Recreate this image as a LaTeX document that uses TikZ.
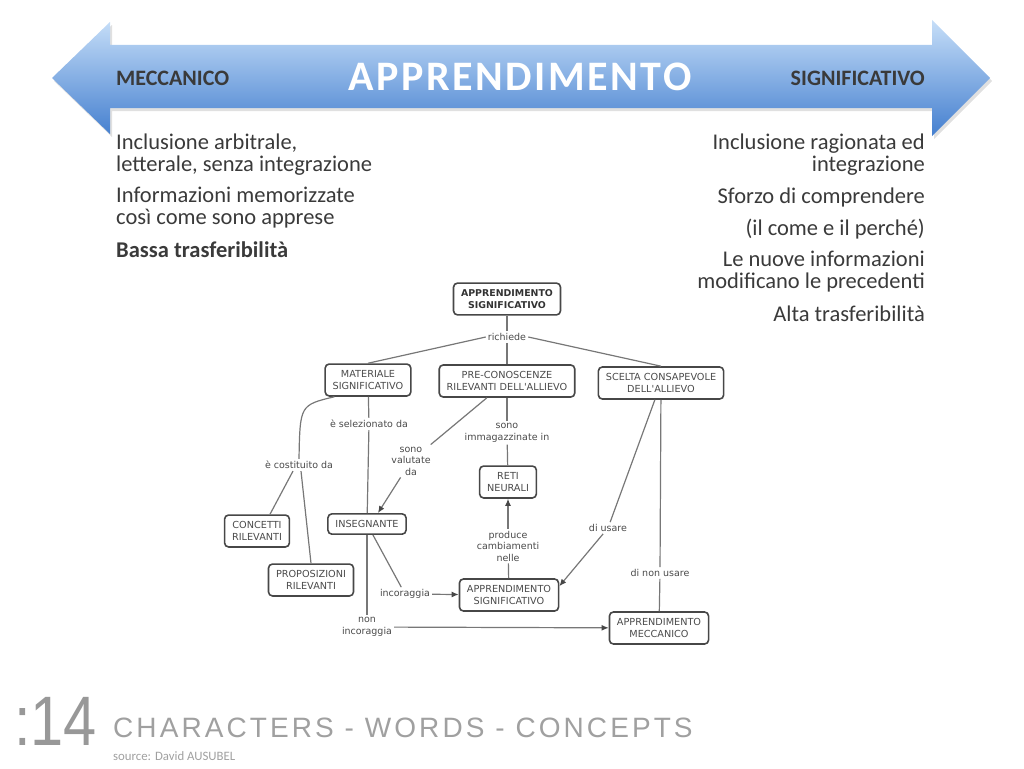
\documentclass[tikz,border=0pt]{standalone}
\usepackage{fontspec}
\usepackage{tikz}
\usepackage{xcolor}
\usetikzlibrary{arrows.meta}

\setmainfont{Carlito}
\newfontfamily\cmapfont{DejaVu Sans}
\newfontfamily\bannerfont[LetterSpace=6]{Carlito}
\newfontfamily\footfont[LetterSpace=11]{Liberation Sans}
\newfontfamily\numfont[FakeStretch=0.85]{Liberation Sans}

\definecolor{bannertop}{HTML}{C6DEF8}
\definecolor{bannerbot}{HTML}{447FCF}
\definecolor{slidetext}{HTML}{3A3A3A}
\definecolor{boxline}{HTML}{474747}
\definecolor{boxtext}{HTML}{4A4A4A}
\definecolor{linkline}{HTML}{777777}
\definecolor{footgrey}{HTML}{A0A0A0}

\begin{document}
\begin{tikzpicture}[x=1pt,y=-1pt,
            concept/.style={draw=boxline, line width=1.6pt, rounded corners=4pt, text=boxtext,
                font=\cmapfont\fontsize{9.7}{11.7}\selectfont, align=center, inner xsep=7.5pt, inner ysep=6.5pt},
            linkword/.style={text=boxtext, font=\cmapfont\fontsize{9.5}{11.5}\selectfont, align=center, inner sep=2pt},
            link/.style={draw=linkline, line width=1.2pt},
            linkarrow/.style={link, -{Latex[length=7pt,width=6pt,color=boxline]}},
            slide/.style={inner sep=0pt, text=slidetext, font=\fontsize{22.5}{22}\selectfont}]
            \useasboundingbox (0,0) rectangle (1024,768);

            % draw banner arrow
            \fill[black, opacity=0.12] (54,81) -- (112,25) -- (112,48) -- (934,48) -- (934,23) -- (992,81)
                -- (934,139) -- (934,111) -- (112,111) -- (112,137) -- cycle;
            \shade[top color=bannertop, bottom color=bannerbot] (52,78) -- (110,22) -- (110,45) -- (932,45)
                -- (932,20) -- (990,78) -- (932,136) -- (932,108) -- (110,108) -- (110,134) -- cycle;
            \node[anchor=base west, inner sep=0pt, text=slidetext, font=\bfseries\fontsize{22}{25}\selectfont] (mecc) at (116,85) {MECCANICO};
            \node[anchor=base east, inner sep=0pt, text=slidetext, font=\bfseries\fontsize{22}{25}\selectfont] (signif) at (925,85) {SIGNIFICATIVO};
            \node[anchor=base, inner sep=0pt, text=white, font=\bannerfont\bfseries\fontsize{42}{48}\selectfont] (appr) at (520,90) {APPRENDIMENTO};

            % draw the two lists (base is the last line)
            \node[slide, anchor=base west, align=left] (lefta) at (116,171) {Inclusione arbitrale,\\letterale, senza integrazione};
            \node[slide, anchor=base west, align=left] (leftb) at (116,224) {Informazioni memorizzate\\così come sono apprese};
            \node[slide, anchor=base west, font=\bfseries\fontsize{22.5}{22}\selectfont] (leftc) at (116,257) {Bassa trasferibilità};

            \node[slide, anchor=base east, align=right] (righta) at (925,171) {Inclusione ragionata ed\\integrazione};
            \node[slide, anchor=base east] (rightb) at (925,203) {Sforzo di comprendere};
            \node[slide, anchor=base east] (rightc) at (925,235) {(il come e il perché)};
            \node[slide, anchor=base east, align=right] (rightd) at (925,288) {Le nuove informazioni\\modificano le precedenti};
            \node[slide, anchor=base east] (righte) at (925,321) {Alta trasferibilità};

            % draw concept map
            \node[concept, text=black!80, font=\cmapfont\bfseries\fontsize{9.4}{11.7}\selectfont] (topappr) at (507,299) {APPRENDIMENTO\\SIGNIFICATIVO};
            \node[concept] (materiale) at (368,380) {MATERIALE\\SIGNIFICATIVO};
            \node[concept] (preconosc) at (507,381) {PRE-CONOSCENZE\\RILEVANTI DELL'ALLIEVO};
            \node[concept] (scelta) at (661,383) {SCELTA CONSAPEVOLE\\DELL'ALLIEVO};
            \node[concept] (reti) at (508,482) {RETI\\NEURALI};
            \node[concept] (concetti) at (257,531) {CONCETTI\\RILEVANTI};
            \node[concept] (insegnante) at (367,524) {INSEGNANTE};
            \node[concept] (proposiz) at (311,580) {PROPOSIZIONI\\RILEVANTI};
            \node[concept] (apprsig) at (509,595) {APPRENDIMENTO\\SIGNIFICATIVO};
            \node[concept] (apprmec) at (659,628) {APPRENDIMENTO\\MECCANICO};

            \node[linkword] (richiede) at (507,337) {richiede};
            \node[linkword] (selezionato) at (369,424) {è selezionato da};
            \node[linkword] (costituito) at (299,465) {è costituito da};
            \node[linkword] (valutate) at (411,461) {sono\\valutate\\da};
            \node[linkword] (immag) at (507,433) {sono\\immagazzinate in};
            \node[linkword] (produce) at (508,546) {produce\\cambiamenti\\nelle};
            \node[linkword] (incoraggia) at (405,594) {incoraggia};
            \node[linkword] (nonincor) at (367,627) {non\\incoraggia};
            \node[linkword] (diusare) at (608,528) {di usare};
            \node[linkword] (dinonusare) at (660,573) {di non usare};

            % draw links
            \draw[link] (topappr) -- (richiede);
            \draw[link] (richiede.west) -- (materiale.north);
            \draw[link] (richiede) -- (preconosc);
            \draw[link] (richiede.east) -- (scelta.north);
            \draw[link] ([xshift=10pt]materiale.south west) .. controls (300,405) .. (costituito.north);
            \draw[link] ([xshift=-6pt]costituito.south) -- ([xshift=13pt]concetti.north);
            \draw[link] ([xshift=2pt]costituito.south) -- (proposiz.north);
            \draw[link] (materiale) -- (selezionato);
            \draw[link] (selezionato) -- (insegnante);
            \draw[link] (preconosc) -- (valutate);
            \draw[linkarrow] (valutate) -- (insegnante.45);
            \draw[link] (preconosc) -- (immag);
            \draw[link] (immag) -- (reti);
            \draw[link] (apprsig) -- (produce);
            \draw[linkarrow] (produce) -- (reti);
            \draw[link] (insegnante) -- (incoraggia);
            \draw[linkarrow] (incoraggia) -- (apprsig);
            \draw[link] (insegnante) -- (nonincor);
            \draw[linkarrow] (nonincor) -- (apprmec);
            \draw[link] (scelta) -- (diusare);
            \draw[linkarrow] (diusare) -- (apprsig.10);
            \draw[link] (scelta) -- (dinonusare);
            \draw[link] (dinonusare) -- (apprmec);

            % draw footer
            \node[anchor=base west, inner sep=0pt, text=footgrey!95!black, font=\numfont\fontsize{70}{80}\selectfont] (slidenum) at (14,745) {:14};
            \node[anchor=base west, inner sep=0pt, text=footgrey, font=\footfont\fontsize{28}{32}\selectfont] (footer) at (113,737) {CHARACTERS - WORDS - CONCEPTS};
            \node[anchor=base west, inner sep=0pt, text=footgrey, font=\fontsize{12.8}{14}\selectfont] (source) at (113,760) {source: David AUSUBEL};
        \end{tikzpicture}
\end{document}
